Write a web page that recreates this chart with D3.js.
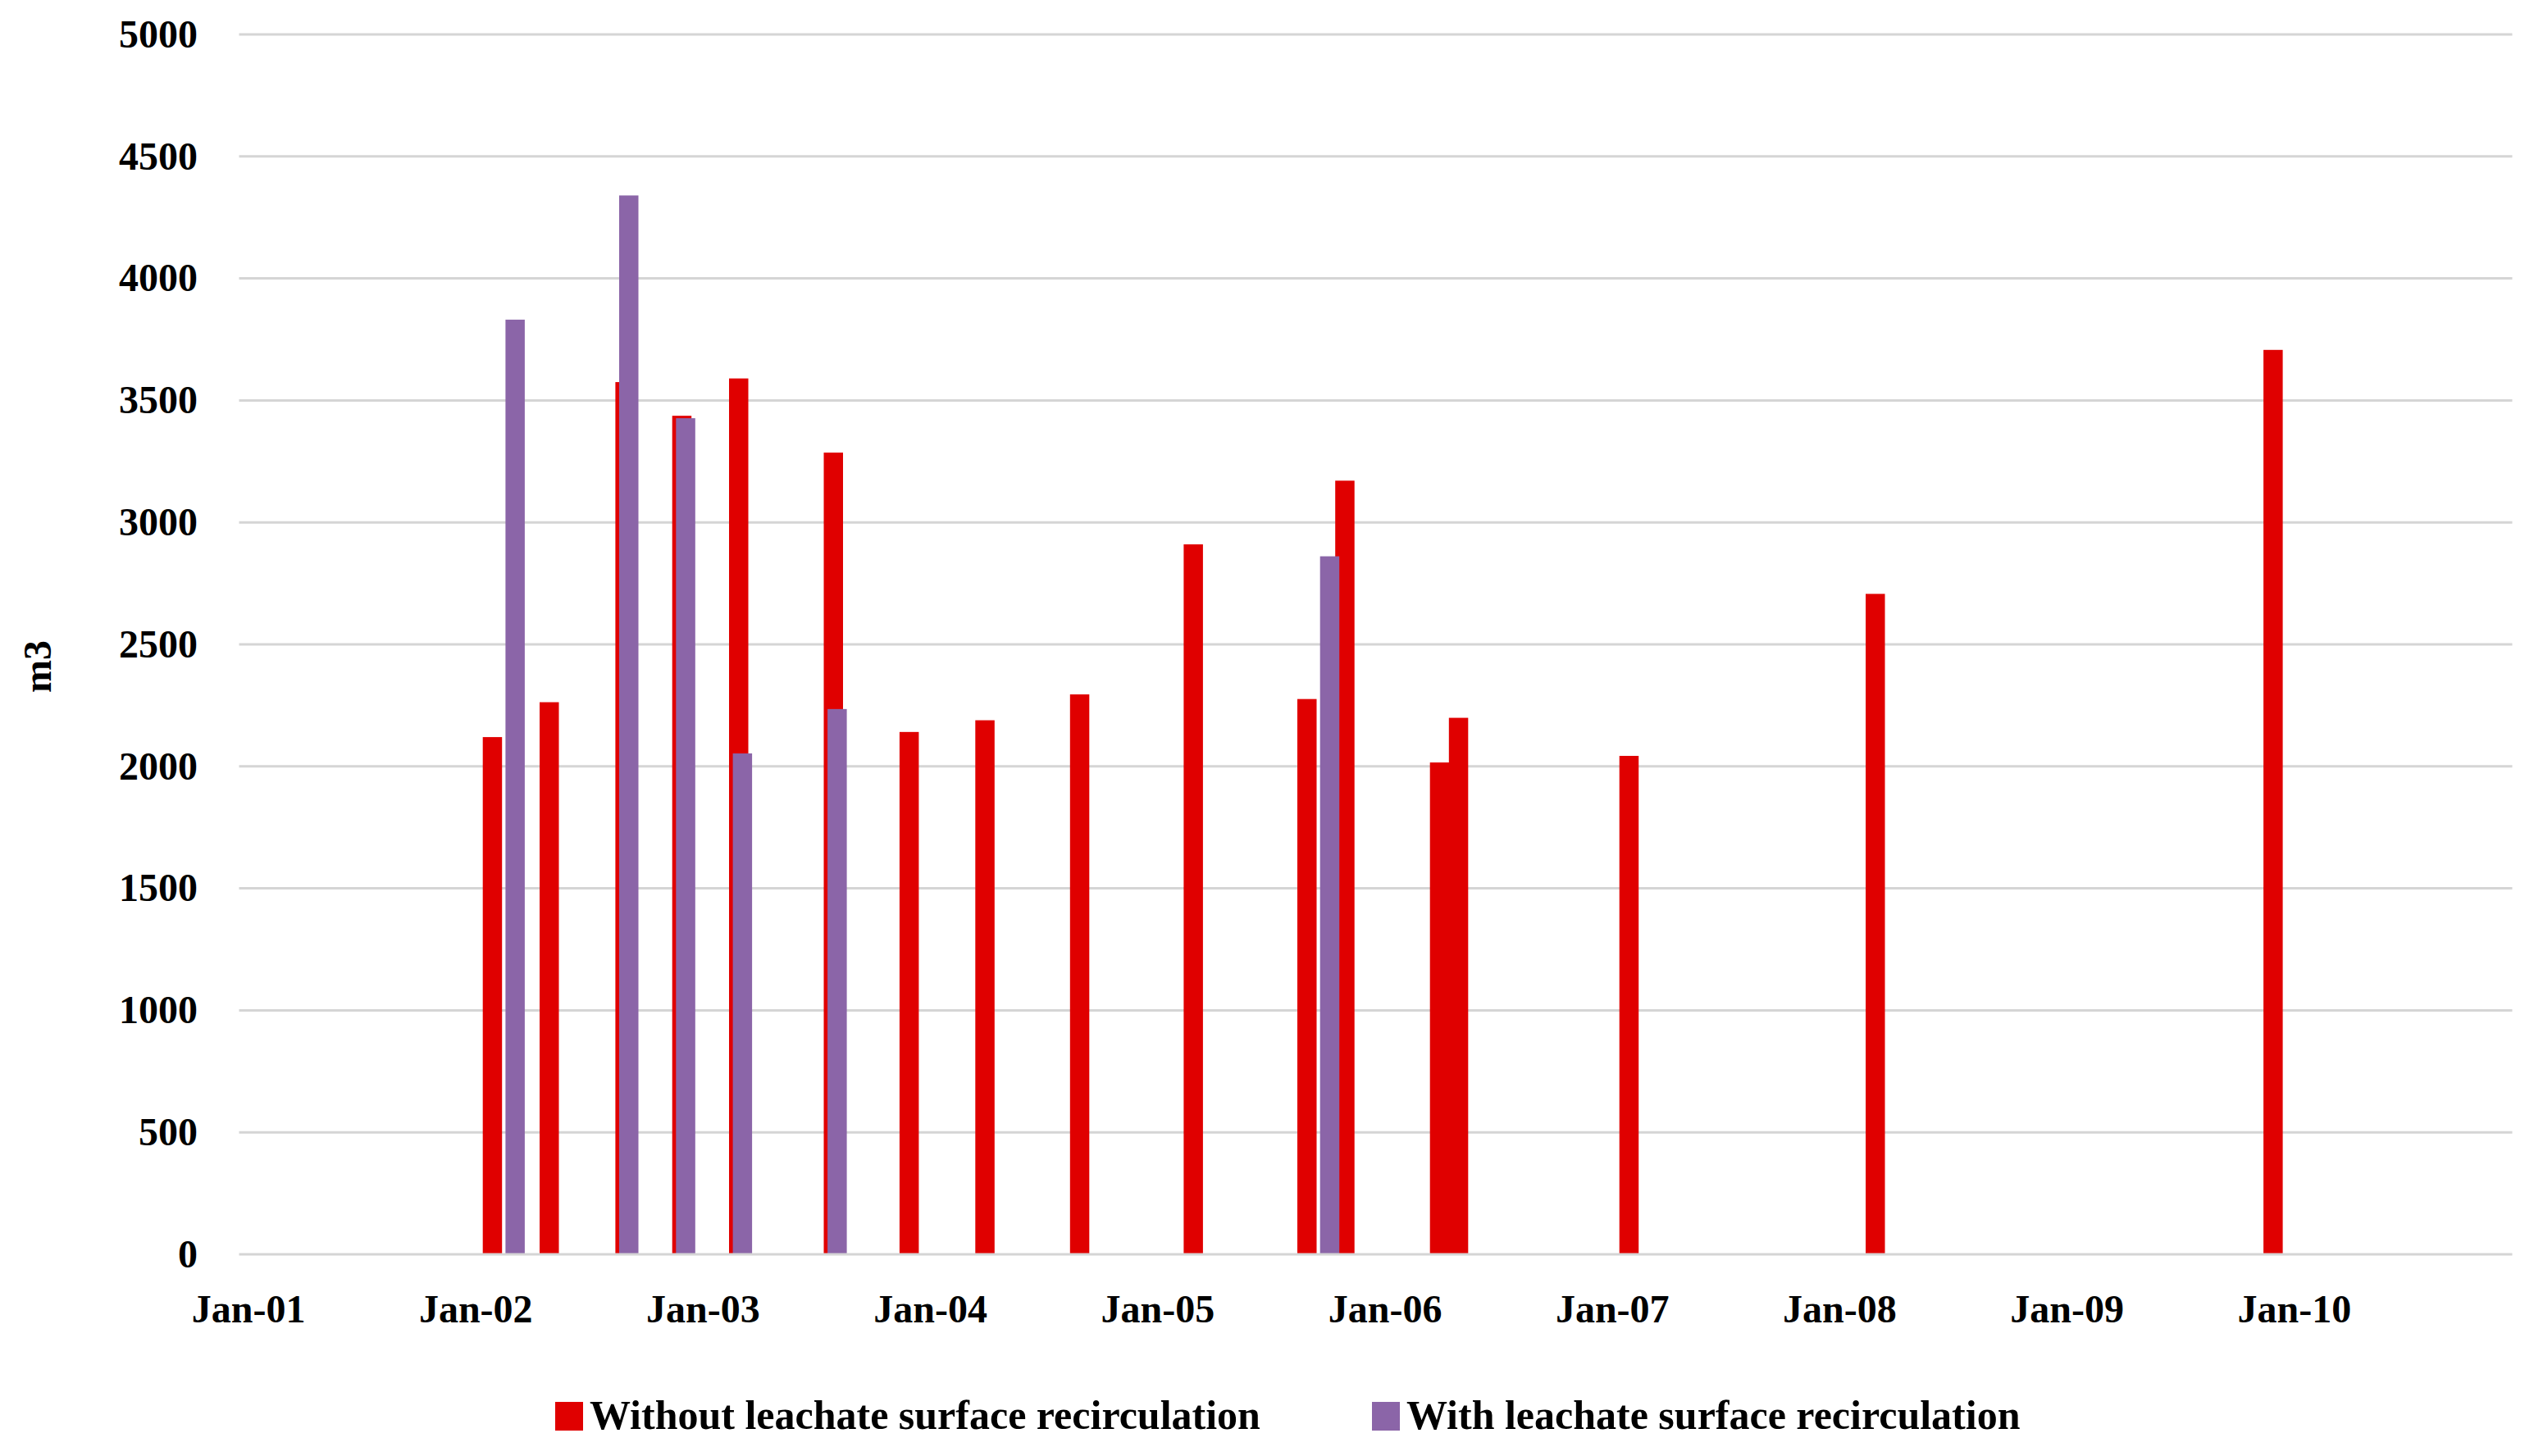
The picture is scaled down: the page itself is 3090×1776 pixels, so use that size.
<!DOCTYPE html>
<html>
<head>
    <meta charset="utf-8">
    <title>Leachate volume with and without surface recirculation</title>
    <script src="https://d3js.org/d3.v7.min.js"></script>
    <style>
        * {
            margin: 0;
            padding: 0;
        }
        body {
            background: #fff;
            width: 3090px;
            height: 1776px;
            overflow: hidden;
        }
        text {
            font-family: "Liberation Serif", "Times New Roman", serif;
            font-weight: bold;
            font-size: 48px;
            fill: #000;
        }
        .legend text {
            font-size: 50px;
        }
        .grid line {
            stroke: #d5d5d5;
            stroke-width: 3px;
        }
        .axis path,
        .axis line {
            display: none;
        }
    </style>
</head>
<body>
    <script>
        // months are the chart's base unit (Excel date axis, base unit = months)
        var withoutMonths = ["2002-02", "2002-05", "2002-09", "2002-12", "2003-03", "2003-08", "2003-12", "2004-04", "2004-09",
            "2005-03", "2005-09", "2005-11", "2006-04", "2006-05", "2007-02", "2008-03", "2009-12"];
        var withoutValues = [2120, 2263, 3575, 3437, 3590, 3286, 2141, 2189, 2295, 2910, 2276, 3171, 2016, 2199, 2043, 2707, 3707];

        var withMonths = ["2002-03", "2002-09", "2002-12", "2003-03", "2003-08", "2005-10"];
        var withValues = [3831, 4340, 3427, 2053, 2235, 2861];

        var yTicks = [0, 500, 1000, 1500, 2000, 2500, 3000, 3500, 4000, 4500, 5000];
        var yearLabels = ["Jan-01", "Jan-02", "Jan-03", "Jan-04", "Jan-05", "Jan-06", "Jan-07", "Jan-08", "Jan-09", "Jan-10"];
        var seriesNames = ["Without leachate surface recirculation", "With leachate surface recirculation"];
        var seriesColors = ["#e00000", "#8b65a8"];
        var yTitle = "m3";

        var margin = { left: 291.5, right: 26.5, top: 42, bottom: 246 };
        var width = 3090 - margin.left - margin.right;
        var height = 1776 - margin.top - margin.bottom;

        var fmtMonth = d3.timeFormat("%Y-%m");
        var months = d3.timeMonth.range(new Date(2001, 0, 1), new Date(2011, 0, 1)).map(fmtMonth);
        var januaries = months.filter(function (m) { return m.slice(5) === "01"; });

        var x = d3.scaleBand().domain(months).range([0, width]).padding(0);
        var y = d3.scaleLinear().domain([0, 5000]).range([height, 0]);

        var series = [
            { name: seriesNames[0], color: seriesColors[0], offset: -2.9, rows: withoutMonths.map(function (m, i) { return { month: m, value: withoutValues[i] }; }) },
            { name: seriesNames[1], color: seriesColors[1], offset: 1.7, rows: withMonths.map(function (m, i) { return { month: m, value: withValues[i] }; }) }
        ];
        var barW = 23.5;

        var svg = d3.select("body").append("svg").attr("width", 3090).attr("height", 1776);
        var g = svg.append("g").attr("transform", "translate(" + margin.left + "," + margin.top + ")");

        // gridlines (zero line drawn later, on top of the bars)
        g.append("g").attr("class", "grid")
            .selectAll("line").data(yTicks.filter(function (d) { return d > 0; })).enter().append("line")
            .attr("x1", 0).attr("x2", width)
            .attr("y1", function (d) { return y(d); }).attr("y2", function (d) { return y(d); });

        series.forEach(function (s) {
            g.append("g").selectAll("rect").data(s.rows).enter().append("rect")
                .attr("x", function (d) { return x(d.month) + x.bandwidth() / 2 + s.offset - barW / 2; })
                .attr("y", function (d) { return y(d.value); })
                .attr("width", barW)
                .attr("height", function (d) { return y(0) - y(d.value); })
                .attr("fill", s.color);
        });

        g.append("g").attr("class", "grid")
            .append("line")
            .attr("x1", 0).attr("x2", width)
            .attr("y1", y(0)).attr("y2", y(0));

        g.append("g").attr("class", "axis y")
            .call(d3.axisLeft(y).tickValues(yTicks).tickSize(0).tickPadding(50.5).tickFormat(d3.format("d")));

        var xAxis = g.append("g").attr("class", "axis x")
            .attr("transform", "translate(0," + height + ")")
            .call(d3.axisBottom(x).tickValues(januaries).tickSize(0)
                .tickFormat(function (d, i) { return yearLabels[i]; }));
        xAxis.selectAll("text").attr("y", 83).attr("dy", null);

        svg.append("text")
            .attr("transform", "translate(62,813) rotate(-90)")
            .attr("text-anchor", "middle")
            .text(yTitle);

        // legend
        var legendX = [677, 1673];
        var legend = svg.append("g").attr("class", "legend").selectAll("g").data(series).enter().append("g")
            .attr("transform", function (d, i) { return "translate(" + legendX[i] + ",1710)"; });
        legend.append("rect").attr("width", 34).attr("height", 35).attr("fill", function (d) { return d.color; });
        legend.append("text").attr("x", 42).attr("y", 33).text(function (d) { return d.name; });
    </script>
</body>
</html>
